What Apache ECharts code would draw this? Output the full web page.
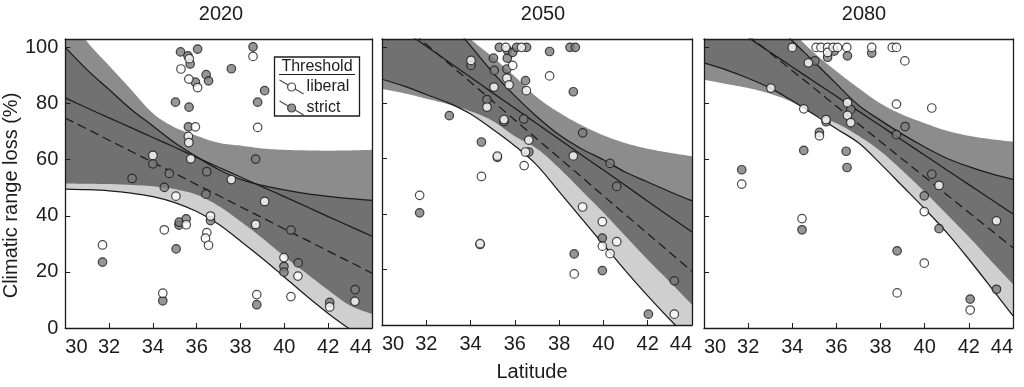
<!DOCTYPE html>
<html><head><meta charset="utf-8">
<script src="https://cdn.jsdelivr.net/npm/echarts@6/dist/echarts.min.js"></script>
<style>html,body{margin:0;padding:0;background:#fff}#c{width:1024px;height:387px}</style>
</head><body><div id="c"></div>
<script>
// ---------- data ----------
const YEARS = ['2020', '2050', '2080'];
const X_TICKS = [30, 32, 34, 36, 38, 40, 42, 44];
const Y_TICKS = [0, 20, 40, 60, 80, 100];
const LAT = [30, 31, 32, 33, 34, 35, 36, 37, 38, 39, 40, 41, 42, 43, 44];

// 2020
const liberal2020 = [[31.70,29.6],[34.00,61.5],[34.45,12.4],[34.52,35.0],[35.05,47.0],[35.28,92.3],[35.52,36.8],[35.64,88.7],[35.66,96.0],[35.62,68.3],[35.64,66.1],[35.73,60.3],[35.94,71.7],[36.04,85.7],[36.46,34.0],[36.40,32.0],[36.54,29.5],[36.63,39.9],[37.58,52.9],[38.57,96.8],[38.78,71.5],[38.69,36.9],[38.74,11.9],[39.10,45.1],[39.98,25.1],[40.62,18.5],[40.30,11.2],[42.07,7.5],[43.22,9.5]];
const strict2020 = [[31.70,23.5],[33.05,53.3],[34.00,58.5],[34.52,50.1],[34.45,9.7],[34.75,55.1],[35.03,80.5],[35.06,28.2],[35.19,36.7],[35.20,37.7],[35.52,38.9],[35.26,98.4],[35.60,97.0],[35.70,94.1],[35.65,78.7],[35.62,71.7],[36.04,99.4],[35.94,87.6],[36.43,90.3],[36.54,88.1],[36.46,55.7],[36.42,47.7],[36.63,38.3],[37.58,92.4],[38.57,100.2],[38.69,60.2],[38.78,80.5],[39.10,84.6],[38.74,8.3],[39.98,21.9],[39.98,19.9],[40.30,34.9],[40.63,23.2],[42.07,9.1],[43.23,13.7]];
const libFit2020 = [74.8,70.9,66.9,63.0,59.0,55.1,51.1,47.2,43.2,39.3,35.3,31.4,27.4,23.5,19.5];
const libUp2020  = [100,92,85,78,72,66,61,56.5,53,50.8,49.2,47.9,46.9,46.1,45.5];
const libLo2020  = [49.5,49.3,48.9,48.1,46.8,44.7,41.5,37,31,24.8,18.2,11.5,5.2,-0.5,-6];
const strFit2020 = [82,78.4,74.9,71.4,67.9,64.4,60.8,57.3,53.8,50.3,46.8,43.3,39.7,36.2,32.7];
const strUp2020  = [113,102,93.5,85,76.5,71.5,68.5,66,65,64,63.5,63.3,63.2,63.3,63.5];
const strLo2020  = [51.5,51.4,51.3,51,50.5,49.5,47.5,43.5,38,32,25.5,19.5,13.5,8,5];

// 2050
const liberal2050 = [[31.70,46.7],[34.02,95.3],[34.49,53.5],[34.43,29.3],[34.74,78.5],[35.06,85.7],[35.21,60.8],[35.51,74.0],[35.64,88.9],[35.74,86.5],[35.90,93.5],[35.59,100],[36.30,100],[36.52,84.4],[36.63,66.6],[36.48,62.3],[36.42,57.4],[37.57,89.7],[38.64,60.9],[39.06,42.5],[39.95,37.2],[39.95,28.4],[40.60,30.0],[40.30,25.7],[38.68,18.4],[43.20,3.9]];
const strict2050 = [[31.70,40.4],[33.04,75.4],[34.02,93.5],[34.49,65.9],[34.43,29.0],[34.74,81.2],[35.03,96.1],[35.07,91.7],[35.21,60.4],[35.51,73.3],[35.64,92.2],[35.66,96.1],[35.66,99.0],[35.90,98.2],[35.30,100],[36.08,100],[36.53,100],[36.48,88.0],[36.40,74.2],[36.63,62.3],[37.57,98.5],[38.49,100],[38.73,100],[38.64,84.0],[39.06,69.2],[40.30,58.2],[40.60,49.9],[39.95,31.3],[38.68,25.6],[39.95,19.6],[43.20,15.9],[42.03,3.9]];
const libFit2050 = [114.7,107.9,101.1,94.3,87.4,80.6,73.8,67.0,60.2,53.4,46.5,39.7,32.9,26.1,19.3];
const libUp2050  = [140,130,120,110,100.5,91,82.5,75,68.5,63.5,59.5,55,51.5,48,44.7];
const libLo2050  = [88.5,86,83,80,76,70.5,64.5,57.5,48,38.5,29,19.5,10.5,2,-6];
const strFit2050 = [111.5,105.9,100.4,94.8,89.2,83.6,78.1,72.5,66.9,61.3,55.8,50.2,44.6,39.0,33.5];
const strUp2050  = [138,128.5,119.3,111,103,96.5,89.5,82,76.5,72,68.3,65.5,63.5,62,60.8];
const strLo2050  = [85,83.5,81.5,79.5,77,73.5,68,63.5,56.5,48.5,40.5,32,23.5,15.5,7.3];

// 2080
const liberal2080 = [[31.71,51.3],[33.03,85.5],[34.00,100],[34.52,78.1],[34.44,39.0],[34.73,94.5],[35.08,100],[35.30,100],[35.60,100],[35.60,98.2],[35.85,100],[36.05,100],[36.47,100],[35.53,74.3],[35.23,68.5],[36.50,80.3],[36.50,75.8],[36.65,73.2],[37.60,100],[38.53,100],[38.72,100],[39.10,95.2],[38.72,79.8],[40.32,78.4],[40.65,50.8],[39.98,41.5],[43.25,38.2],[39.98,23.1],[38.75,12.5],[42.06,6.4]];
const strict2080 = [[31.71,56.4],[34.52,63.3],[34.44,35.0],[35.02,95.2],[35.60,96.5],[35.90,98.7],[36.50,97.0],[35.53,73.5],[35.23,69.7],[36.65,77.9],[36.44,63.0],[36.48,57.2],[37.60,98.0],[39.11,71.8],[38.72,68.9],[40.32,54.8],[39.98,47.1],[40.65,35.4],[38.75,27.5],[42.06,10.3],[43.25,13.8]];
const libFit2080 = [116.9,110.6,104.3,98,91.7,85.4,79,72.7,66.4,60.1,53.8,47.5,41.2,34.9,28.6];
const libUp2080  = [139.3,129.2,119.6,110.5,102.4,94.8,87,79.4,74,69,64.5,60.5,57.5,55,53];
const libLo2080  = [94.5,92,89,85.5,81,76,71,66,58.5,50.5,42.5,34,24.5,14.5,4.3];
const strFit2080 = [114,108.8,103.5,98.3,93,87.8,82.6,77.3,72.1,66.8,61.6,56.3,51.1,45.9,40.6];
const strUp2080  = [139.5,130.6,121.5,113.1,105.5,98,91.5,85.5,80,76,73,70.3,68.5,67.3,66.4];
const strLo2080  = [88.5,87,85.5,83.5,80.5,76,73,68.5,63,56,48.5,40.5,32.5,24,15.6];

const PANELS = [
  {year: YEARS[0], lib: liberal2020, str: strict2020, lf: libFit2020, lu: libUp2020, ll: libLo2020, sf: strFit2020, su: strUp2020, sl: strLo2020},
  {year: YEARS[1], lib: liberal2050, str: strict2050, lf: libFit2050, lu: libUp2050, ll: libLo2050, sf: strFit2050, su: strUp2050, sl: strLo2050},
  {year: YEARS[2], lib: liberal2080, str: strict2080, lf: libFit2080, lu: libUp2080, ll: libLo2080, sf: strFit2080, su: strUp2080, sl: strLo2080}
];

// ---------- layout / style ----------
const FONT = 'Liberation Sans, Arial, Helvetica, sans-serif';
const INK = '#1c1c1c';
const GRIDS = [
  {left: 61, top: 39, width: 311, height: 289},
  {left: 382, top: 39, width: 310, height: 289},
  {left: 704, top: 39, width: 309, height: 289}
];
const TITLE_X = [221, 543, 864];

const chart = echarts.init(document.getElementById('c'), null, {renderer: 'canvas'});

// Catmull-Rom smoothing of pixel points (rendering only)
function smoothPts(pts, n) {
  const out = [];
  for (let k = 0; k < pts.length - 1; k++) {
    const p0 = pts[Math.max(k - 1, 0)], p1 = pts[k], p2 = pts[k + 1], p3 = pts[Math.min(k + 2, pts.length - 1)];
    for (let s = 0; s < n; s++) {
      const t = s / n, t2 = t * t, t3 = t2 * t;
      const f = (a, b, c, d) => 0.5 * (2 * b + (-a + c) * t + (2 * a - 5 * b + 4 * c - d) * t2 + (-a + 3 * b - 3 * c + d) * t3);
      out.push([f(p0[0], p1[0], p2[0], p3[0]), f(p0[1], p1[1], p2[1], p3[1])]);
    }
  }
  out.push(pts[pts.length - 1]);
  return out;
}

function bandSeries(i, up, lo, fill, z, name) {
  return {
    type: 'custom', name: name, xAxisIndex: 2 * i, yAxisIndex: 2 * i, silent: true, z: z, clip: true,
    data: [[LAT[0], lo[0]]],
    renderItem: function (params, api) {
      const u = smoothPts(up.map((v, k) => api.coord([LAT[k], v])), 10);
      const l = smoothPts(lo.map((v, k) => api.coord([LAT[k], v])), 10).reverse();
      const cs = params.coordSys;
      return {
        type: 'polygon', shape: {points: u.concat(l)}, style: {fill: fill},
        clipPath: {type: 'rect', shape: {x: cs.x, y: cs.y, width: cs.width, height: cs.height}}
      };
    }
  };
}

const xAxis = [], yAxis = [], series = [], title = [];
const pairs = (ys) => LAT.map((x, k) => [x, ys[k]]);
const axisLine = {show: true, onZero: false, lineStyle: {color: INK, width: 1.3}};

PANELS.forEach((p, i) => {
  title.push({
    text: p.year, left: TITLE_X[i], top: 4, textAlign: 'center', padding: 0,
    textStyle: {fontSize: 20, fontWeight: 'normal', color: INK, fontFamily: FONT}
  });
  xAxis.push({
    gridIndex: i, type: 'value', min: X_TICKS[0], max: X_TICKS[X_TICKS.length - 1], interval: 2,
    position: 'bottom', z: 10,
    axisLine: axisLine,
    axisTick: {show: true, inside: true, length: 5, lineStyle: {color: INK, width: 1}},
    axisLabel: {fontSize: 20, color: INK, fontFamily: FONT, margin: 9, alignMinLabel: 'left', alignMaxLabel: 'right'},
    splitLine: {show: false},
    name: i === 1 ? 'Latitude' : '', nameLocation: 'middle', nameGap: 37,
    nameTextStyle: {fontSize: 20, color: INK, fontFamily: FONT, padding: [0, 10, 0, 0]}
  });
  xAxis.push({
    gridIndex: i, type: 'value', min: X_TICKS[0], max: X_TICKS[X_TICKS.length - 1], interval: 2,
    position: 'top', z: 10, axisLine: axisLine,
    axisTick: {show: false}, axisLabel: {show: false}, splitLine: {show: false}
  });
  yAxis.push({
    gridIndex: i, type: 'value', min: 0, max: 103, interval: 20, position: 'left', z: 10,
    axisLine: axisLine,
    axisTick: {show: true, inside: true, length: 5, lineStyle: {color: INK, width: 1}},
    axisLabel: {show: i === 0, fontSize: 20, color: INK, fontFamily: FONT, margin: 7,
      formatter: (v) => (Y_TICKS.indexOf(v) >= 0 ? String(v) : '')},
    splitLine: {show: false},
    name: i === 0 ? 'Climatic range loss (%)' : '', nameLocation: 'middle', nameGap: 38,
    nameTextStyle: {fontSize: 20, color: INK, fontFamily: FONT, padding: [0, 24, 0, 0]}
  });
  yAxis.push({
    gridIndex: i, type: 'value', min: 0, max: 103, position: 'right', z: 10,
    axisLine: axisLine, axisTick: {show: false}, axisLabel: {show: false}, splitLine: {show: false}
  });

  const xi = 2 * i, yi = 2 * i;
  // confidence bands: strict (medium grey), liberal (translucent -> darker overlap)
  series.push(bandSeries(i, p.su, p.sl, '#8c8c8c', 1, 'strict band ' + p.year));
  series.push(bandSeries(i, p.lu, p.ll, 'rgba(0,0,0,0.19)', 2, 'liberal band ' + p.year));

  // lines
  const base = {type: 'line', xAxisIndex: xi, yAxisIndex: yi, silent: true, symbol: 'none', smooth: 0.34, z: 3};
  const ls = {color: INK, width: 1.25};
  series.push(Object.assign({}, base, {name: 'liberal upper ' + p.year, data: pairs(p.lu), lineStyle: ls}));
  series.push(Object.assign({}, base, {name: 'liberal lower ' + p.year, data: pairs(p.ll), lineStyle: ls}));
  series.push(Object.assign({}, base, {name: 'strict fit ' + p.year, data: pairs(p.sf), lineStyle: ls}));
  series.push(Object.assign({}, base, {name: 'liberal fit ' + p.year, data: pairs(p.lf),
    lineStyle: {color: INK, width: 1.25, type: [9, 5]}}));

  // points
  series.push({type: 'scatter', name: 'strict', xAxisIndex: xi, yAxisIndex: yi, data: p.str, symbol: 'circle', symbolSize: 8.5,
    itemStyle: {color: '#7c7c7c', borderColor: INK, borderWidth: 1.2}, z: 5});
  series.push({type: 'scatter', name: 'liberal', xAxisIndex: xi, yAxisIndex: yi, data: p.lib, symbol: 'circle', symbolSize: 8.5,
    itemStyle: {color: '#ffffff', borderColor: INK, borderWidth: 1.2}, z: 6});
});

const ICON = 'path://M0,0L8.4,4.9M15.6,9.1L24,14M16,7A4,4,0,1,1,8,7A4,4,0,1,1,16,7Z';

chart.setOption({
  backgroundColor: '#fff',
  animation: false,
  textStyle: {fontFamily: FONT},
  title: title,
  grid: GRIDS,
  xAxis: xAxis,
  yAxis: yAxis,
  legend: {
    data: [{name: 'liberal', icon: ICON}, {name: 'strict', icon: ICON}],
    orient: 'vertical', left: 279, top: 79, padding: 0, itemGap: 5,
    itemWidth: 24, itemHeight: 14, selectedMode: false, z: 60,
    itemStyle: {borderWidth: 1.2, borderColor: INK},
    textStyle: {fontSize: 16, color: INK, fontFamily: FONT, padding: [0, 0, 0, -2]}
  },
  graphic: [
    {type: 'rect', z: 50, shape: {x: 274.5, y: 57, width: 85, height: 59},
      style: {fill: '#fff', stroke: INK, lineWidth: 1.3}},
    {type: 'text', z: 51, x: 317, y: 67, style: {text: 'Threshold', fontSize: 16, fill: INK, font: '16px ' + FONT,
      align: 'center', verticalAlign: 'middle'}},
    {type: 'line', z: 51, shape: {x1: 279, y1: 74.5, x2: 355, y2: 74.5}, style: {stroke: INK, lineWidth: 1.2}}
  ],
  series: series
});
</script>
</body></html>
